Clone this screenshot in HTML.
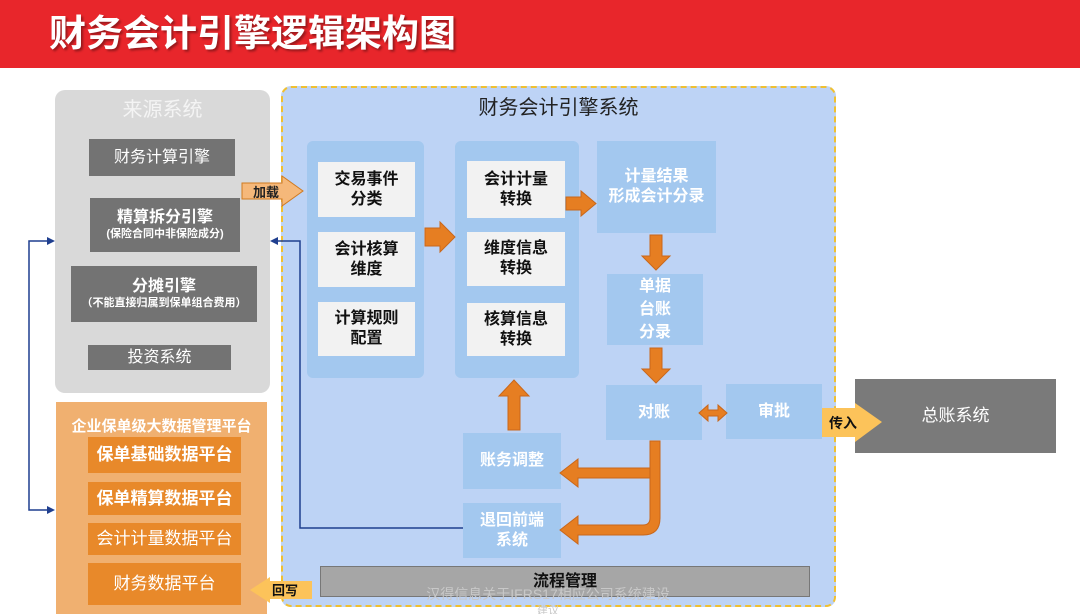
<!DOCTYPE html>
<html><head><meta charset="utf-8"><style>
*{margin:0;padding:0;box-sizing:border-box}
body{width:1080px;height:614px;position:relative;overflow:hidden;background:#fff;font-family:"Liberation Sans","Noto Sans CJK SC",sans-serif}
.a{position:absolute;display:flex;align-items:center;justify-content:center;text-align:center;line-height:1.25}
.g{background:#737373;color:#fff;font-size:16px}
.o{background:#e8892a;color:#fff;font-size:17px;font-weight:bold}
.w{background:#f2f2f2;color:#111;font-size:16px;font-weight:bold}
.b{background:#a3c8ef;color:#fff;font-size:16px;font-weight:bold}
svg{position:absolute;left:0;top:0}
</style></head><body>
<div class="a" style="left:0;top:0;width:1080px;height:68px;background:#e8262b;justify-content:flex-start;padding-left:49px;color:#fff;font-size:37px;font-weight:bold;text-shadow:2px 2px 2px rgba(0,0,0,.35)">财务会计引擎逻辑架构图</div>

<div class="a" style="left:55px;top:90px;width:215px;height:303px;background:#d9d9d9;border-radius:10px;align-items:flex-start;padding-top:8px;color:#f4f4f4;font-size:20px">来源系统</div>
<div class="a g" style="left:89px;top:139px;width:146px;height:37px">财务计算引擎</div>
<div class="a g" style="left:90px;top:198px;width:150px;height:54px;flex-direction:column;font-weight:bold"><span>精算拆分引擎</span><span style="font-size:11px">(保险合同中非保险成分)</span></div>
<div class="a g" style="left:71px;top:266px;width:186px;height:56px;flex-direction:column;font-weight:bold"><span>分摊引擎</span><span style="font-size:11px">（不能直接归属到保单组合费用）</span></div>
<div class="a g" style="left:88px;top:345px;width:143px;height:25px">投资系统</div>

<div class="a" style="left:56px;top:402px;width:211px;height:212px;background:#f0b070;align-items:flex-start;padding-top:16px;color:#fff;font-size:15px;font-weight:bold">企业保单级大数据管理平台</div>
<div class="a o" style="left:88px;top:437px;width:153px;height:36px">保单基础数据平台</div>
<div class="a o" style="left:88px;top:482px;width:153px;height:33px">保单精算数据平台</div>
<div class="a o" style="left:88px;top:523px;width:153px;height:32px;font-weight:normal">会计计量数据平台</div>
<div class="a o" style="left:88px;top:563px;width:153px;height:42px;font-weight:normal">财务数据平台</div>

<div class="a" style="left:281px;top:86px;width:555px;height:521px;background:#bdd3f5;border:2px dashed #f0c030;border-radius:10px;align-items:flex-start;padding-top:8px;color:#222;font-size:20px">财务会计引擎系统</div>
<div class="a" style="left:307px;top:141px;width:117px;height:237px;background:#a3c8ef;border-radius:6px"></div>
<div class="a" style="left:455px;top:141px;width:124px;height:237px;background:#a3c8ef;border-radius:6px"></div>
<div class="a w" style="left:318px;top:162px;width:97px;height:55px">交易事件<br>分类</div>
<div class="a w" style="left:318px;top:232px;width:97px;height:55px">会计核算<br>维度</div>
<div class="a w" style="left:318px;top:302px;width:97px;height:54px">计算规则<br>配置</div>
<div class="a w" style="left:467px;top:161px;width:98px;height:57px">会计计量<br>转换</div>
<div class="a w" style="left:467px;top:232px;width:98px;height:54px">维度信息<br>转换</div>
<div class="a w" style="left:467px;top:303px;width:98px;height:53px">核算信息<br>转换</div>
<div class="a b" style="left:597px;top:141px;width:119px;height:92px">计量结果<br>形成会计分录</div>
<div class="a b" style="left:607px;top:274px;width:96px;height:71px;line-height:1.45">单据<br>台账<br>分录</div>
<div class="a b" style="left:606px;top:385px;width:96px;height:55px">对账</div>
<div class="a b" style="left:726px;top:384px;width:96px;height:55px">审批</div>
<div class="a b" style="left:463px;top:433px;width:98px;height:56px">账务调整</div>
<div class="a b" style="left:463px;top:503px;width:98px;height:55px">退回前端<br>系统</div>
<div class="a" style="left:320px;top:566px;width:490px;height:31px;background:#a6a6a6;border:1px solid #777;font-size:16px;font-weight:bold;color:#111">流程管理</div>
<div class="a" style="left:855px;top:379px;width:201px;height:74px;background:#7a7a7a;color:#fff;font-size:17px">总账系统</div>

<svg width="1080" height="614">
<g fill="none" stroke="#1f3f8f" stroke-width="1.5">
<polyline points="53,241 29,241 29,510 53,510"/>
<polyline points="272,241 300,241 300,528 463,528"/>
</g>
<g fill="#1f3f8f">
<polygon points="55,241 47,237 47,245"/><polygon points="55,510 47,506 47,514"/>
<polygon points="270,241 278,237 278,245"/>
</g>
<polygon points="242,183 282,183 282,176 303,191 282,206 282,199 242,199" fill="#f5b87a" stroke="#d07a20" stroke-width="1"/>
<g fill="#e67e22" stroke="#c9671a" stroke-width="1">
<polygon points="425,228 440,228 440,222 455,237 440,252 440,246 425,246"/>
<polygon points="566,197 581,197 581,191 596,203.5 581,216 581,210 566,210"/>
<polygon points="650,235 662,235 662,256 670,256 656,270 642,256 650,256"/>
<polygon points="650,348 662,348 662,369 670,369 656,383 642,369 650,369"/>
<polygon points="508,430 520,430 520,396 529,396 514,380 499,396 508,396"/>
<polygon points="699,413 708,405 708,410 718,410 718,405 727,413 718,421 718,416 708,416 708,421"/>
<path d="M650,441 L660,441 L660,518 Q660,535 643,535 L578,535 L578,544 L560,530 L578,516 L578,525 L643,525 Q650,525 650,518 Z"/>
<polygon points="650,468 650,478 578,478 578,487 560,473 578,459 578,468"/>
</g>
<polygon points="822,408 855,408 855,403 882,422 855,442 855,437 822,437" fill="#fcc35a"/>
<text x="829" y="428" font-size="14" font-weight="bold" fill="#111" font-family="Liberation Sans,Noto Sans CJK SC,sans-serif">传入</text>
<polygon points="312,581 270,581 270,577 250,590 270,603 270,599 312,599" fill="#fcc35a"/>
<text x="272" y="595" font-size="13" font-weight="bold" fill="#111" font-family="Liberation Sans,Noto Sans CJK SC,sans-serif">回写</text>
<text x="253" y="197" font-size="13" font-weight="bold" fill="#222" font-family="Liberation Sans,Noto Sans CJK SC,sans-serif">加载</text>
<text x="548" y="599" font-size="14" fill="#c8c8c8" text-anchor="middle" font-family="Liberation Sans,Noto Sans CJK SC,sans-serif">汉得信息关于IFRS17相应公司系统建设</text>
<text x="548" y="614" font-size="11" fill="#c8c8c8" text-anchor="middle" font-family="Liberation Sans,Noto Sans CJK SC,sans-serif">建议</text>
</svg>
</body></html>
